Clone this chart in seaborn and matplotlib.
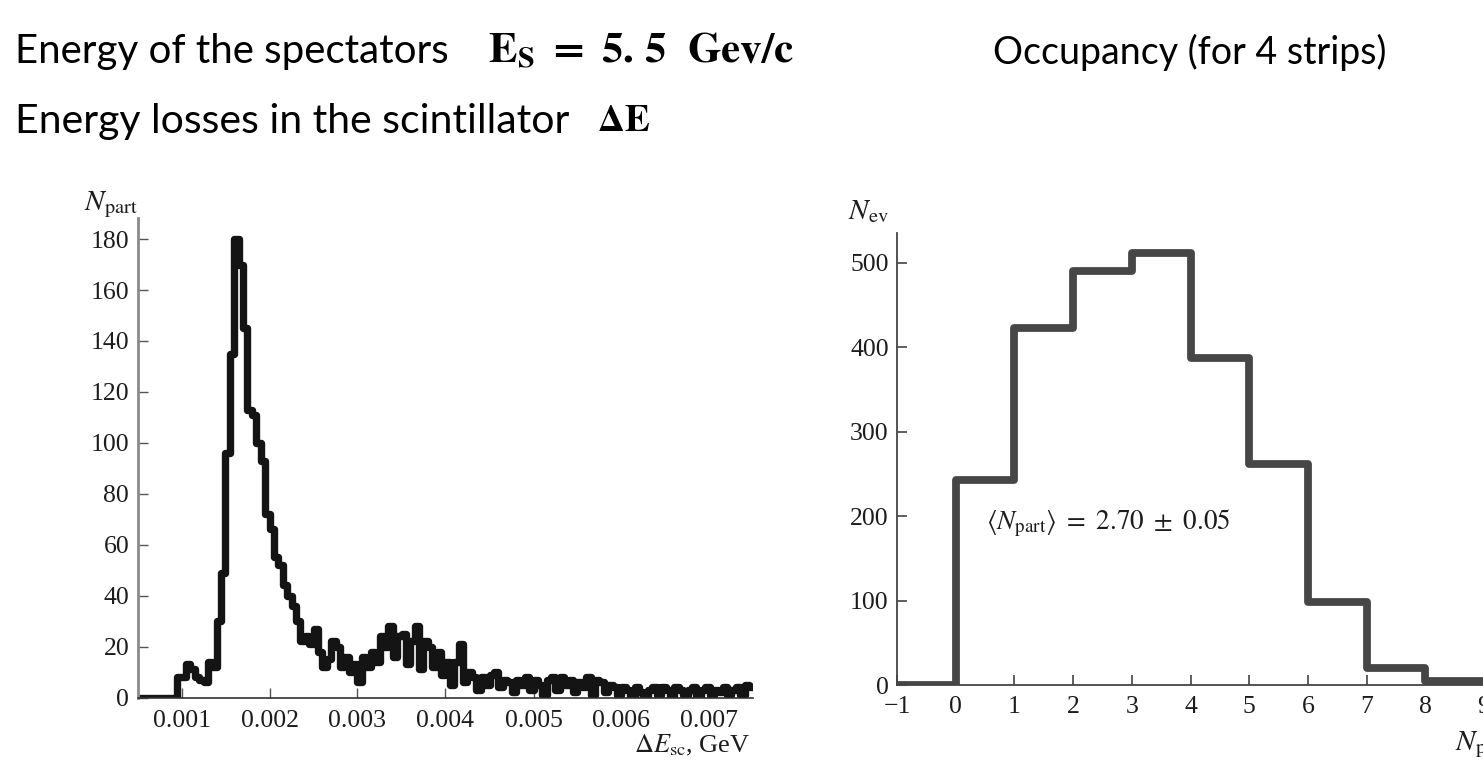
import numpy as np
import pandas as pd
import matplotlib
matplotlib.use("Agg")
import matplotlib.pyplot as plt
import seaborn as sns

# ---------------- data ----------------
# Left: energy losses histogram, bins of 0.00005 GeV from 0.0005 to 0.0075
de_bin_lo = 0.0005
de_bin_width = 0.00005
de_counts = [
    0, 0, 0, 0, 0, 0, 0, 0, 0, 8,
    8, 13, 11, 8, 7, 6, 14, 12, 30, 49,
    96, 135, 180, 170, 145, 113, 111, 100, 93, 72,
    66, 55, 52, 44, 40, 36, 30, 22, 24, 21,
    27, 18, 12, 15, 22, 20, 12, 16, 10, 13,
    6, 16, 12, 18, 14, 24, 20, 28, 16, 24,
    25, 13, 22, 28, 11, 22, 20, 12, 18, 9,
    14, 5, 14, 21, 6, 10, 8, 3, 8, 5,
    9, 10, 4, 7, 6, 2, 7, 5, 8, 3,
    7, 5, 1, 7, 8, 3, 8, 5, 7, 2,
    6, 4, 8, 1, 7, 6, 2, 5, 4, 1,
    4, 3, 0, 4, 2, 0, 3, 4, 1, 4,
    3, 0, 4, 3, 1, 3, 4, 0, 3, 4,
    1, 3, 2, 4, 1, 3, 4, 1, 5, 4,
]
de_ticks = [0.001, 0.002, 0.003, 0.004, 0.005, 0.006, 0.007]
de_tick_labels = ["0.001", "0.002", "0.003", "0.004", "0.005", "0.006", "0.007"]
npart_yticks = [0, 20, 40, 60, 80, 100, 120, 140, 160, 180]

# Right: occupancy histogram
occ_bins = [-1, 0, 1, 2, 3, 4, 5, 6, 7, 8, 9]
occ_counts = [0, 243, 423, 490, 512, 388, 262, 98, 20, 5]
occ_xticks = [-1, 0, 1, 2, 3, 4, 5, 6, 7, 8, 9]
occ_xlabels = ["\u22121", "0", "1", "2", "3", "4", "5", "6", "7", "8", "9"]
occ_yticks = [0, 100, 200, 300, 400, 500]

# ---------------- style ----------------
sns.set_style("ticks")
plt.rcParams["font.family"] = ["Liberation Serif", "DejaVu Serif"]
plt.rcParams["mathtext.fontset"] = "stix"

W, H = 1483, 763
fig = plt.figure(figsize=(W / 100, H / 100), dpi=100)

def fx(px):
    return px / W

def fy(py):
    return 1 - py / H

TXT = "#1c1c1c"

# ---------- left axes ----------
ax1 = fig.add_axes([fx(137.5), fy(697.5), fx(753.5) - fx(137.5), fy(218) - fy(697.5)])
edges = [de_bin_lo + de_bin_width * i for i in range(len(de_counts) + 1)]
centers = [(a + b) / 2 for a, b in zip(edges[:-1], edges[1:])]
df1 = pd.DataFrame({"dE": centers, "n": de_counts})
sns.histplot(data=df1, x="dE", weights="n", bins=edges, element="step", fill=False,
             color="#141414", linewidth=5.3, ax=ax1)
ax1.set_xlim(0.0005, 0.0075)
ax1.set_ylim(0, 188.3)
ax1.set_xticks(de_ticks)
ax1.set_xticklabels(de_tick_labels)
ax1.set_yticks(npart_yticks)
ax1.set_xlabel("")
ax1.set_ylabel("")
for s in ["top", "right"]:
    ax1.spines[s].set_visible(False)
ax1.spines["left"].set_color("#8a8a8a")
ax1.spines["left"].set_linewidth(2.0)
ax1.spines["bottom"].set_color("#333333")
ax1.spines["bottom"].set_linewidth(1.2)
ax1.tick_params(axis="both", direction="in", length=7, width=1.0, colors="#555555",
                labelcolor=TXT, labelsize=18.5)
ax1.tick_params(axis="y", pad=6)
ax1.tick_params(axis="x", pad=9)

# ---------- right axes ----------
ax2 = fig.add_axes([fx(897), fy(685), fx(1484) - fx(897), fy(233) - fy(685)])
occ_centers = [(a + b) / 2 for a, b in zip(occ_bins[:-1], occ_bins[1:])]
df2 = pd.DataFrame({"N": occ_centers, "n": occ_counts})
sns.histplot(data=df2, x="N", weights="n", bins=occ_bins, element="step", fill=False,
             color="#464646", linewidth=5.6, ax=ax2)
ax2.set_xlim(-1, 9)
ax2.set_ylim(0, 535.5)
ax2.set_xticks(occ_xticks)
ax2.set_xticklabels(occ_xlabels)
ax2.set_yticks(occ_yticks)
ax2.set_xlabel("")
ax2.set_ylabel("")
for s in ["top", "right"]:
    ax2.spines[s].set_visible(False)
for s in ["left", "bottom"]:
    ax2.spines[s].set_color("#444444")
    ax2.spines[s].set_linewidth(1.3)
ax2.tick_params(axis="both", direction="in", length=7, width=1.2, colors="#444444",
                labelcolor=TXT, labelsize=18.5)
ax2.tick_params(axis="y", pad=6)
ax2.tick_params(axis="x", pad=8)
ax2.text(0.52, 191, r"$\langle N_{\mathrm{part}}\rangle\ =\ 2.70\ \pm\ 0.05$",
         fontsize=19.5, va="center", ha="left", color=TXT)

# ---------- axis labels ----------
fig.text(fx(84), fy(205), r"$N_{\mathrm{part}}$", fontsize=21, va="center", ha="left", color=TXT)
fig.text(fx(750), fy(745), r"$\Delta E_{\mathrm{sc}}$, GeV", fontsize=19, va="center", ha="right", color=TXT)
fig.text(fx(848), fy(212), r"$N_{\mathrm{ev}}$", fontsize=21, va="center", ha="left", color=TXT)
fig.text(fx(1455), fy(745), r"$N_{\mathrm{part}}$", fontsize=21, va="center", ha="left", color=TXT)

# ---------- headings ----------
head_font = ["Lato", "DejaVu Sans"]
fig.text(fx(15), fy(52), "Energy of the spectators", fontsize=29, family=head_font,
         va="center", ha="left", color="black")
fig.text(fx(488), fy(52), r"$\mathbf{E_S}\ \mathbf{=}\ \mathbf{5.\,5}\ \ \mathbf{Gev/c}$", fontsize=31,
         va="center", ha="left", color="black")
fig.text(fx(993), fy(52), "Occupancy (for 4 strips)", fontsize=27, family=head_font,
         va="center", ha="left", color="black")
fig.text(fx(15), fy(122), "Energy losses in the scintillator", fontsize=29.5, family=head_font,
         va="center", ha="left", color="black")
fig.text(fx(597), fy(122), r"$\mathbf{\Delta E}$", fontsize=27,
         va="center", ha="left", color="black")

fig.savefig("out.png", dpi=100)
